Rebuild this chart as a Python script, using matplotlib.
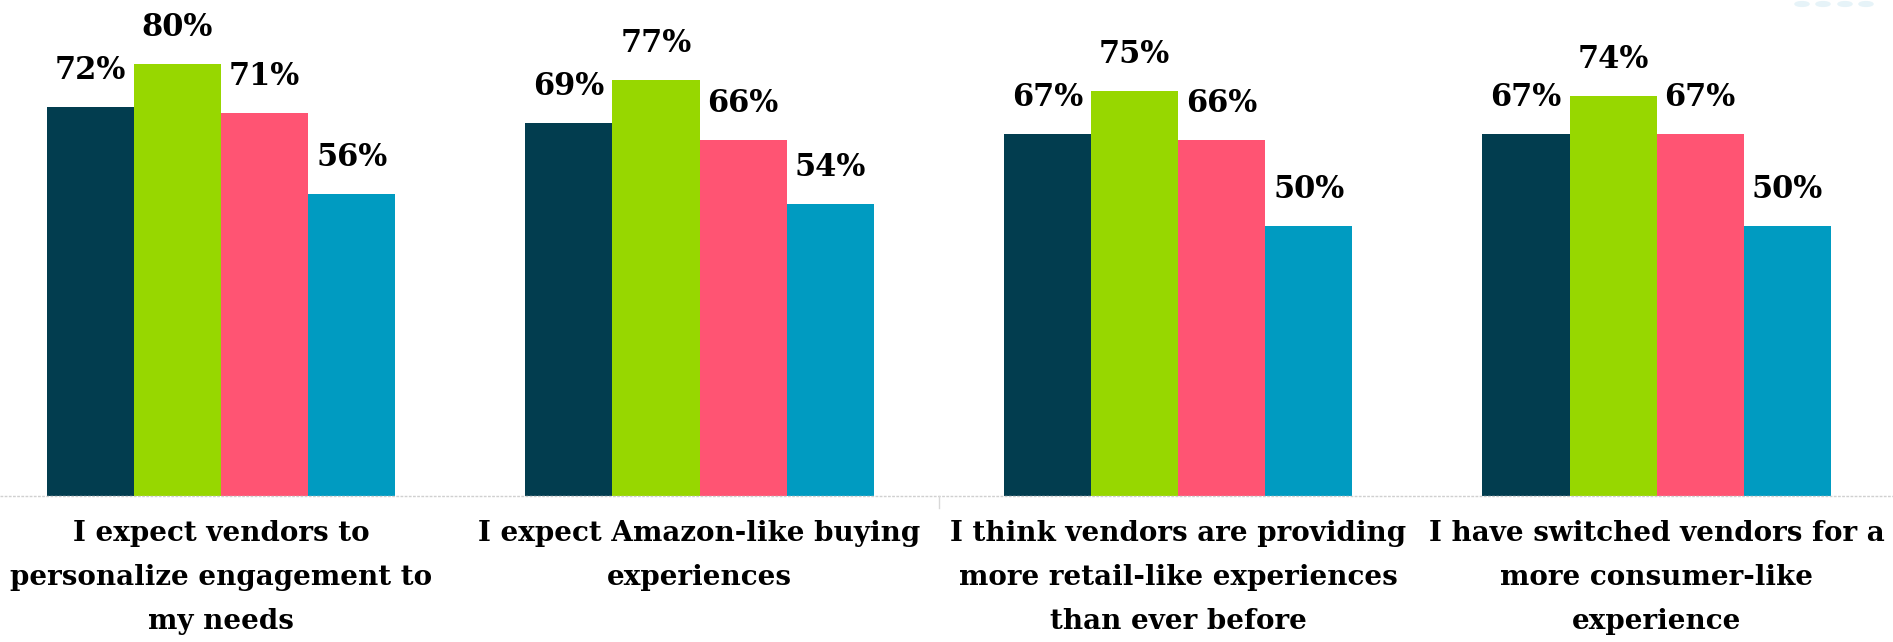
import numpy as np
import matplotlib.pyplot as plt
from matplotlib.patches import Circle

# Survey results per statement, four respondent groups
categories = [
    "I expect vendors to\npersonalize engagement to\nmy needs",
    "I expect Amazon-like buying\nexperiences",
    "I think vendors are providing\nmore retail-like experiences\nthan ever before",
    "I have switched vendors for a\nmore consumer-like\nexperience",
]
series_a = [72, 69, 67, 67]
series_b = [80, 77, 75, 74]
series_c = [71, 66, 66, 67]
series_d = [56, 54, 50, 50]

colors = ["#023d4f", "#97d700", "#ff5473", "#009bc1"]
series = [series_a, series_b, series_c, series_d]

fig = plt.figure(figsize=(18.93, 6.42), dpi=100)
ax = fig.add_axes([0, 1 - 496 / 642, 1, 496 / 642])

x = np.arange(len(categories))
width = 0.182
offsets = (np.arange(4) - 1.5) * width

for vals, off, col in zip(series, offsets, colors):
    bars = ax.bar(x + off, vals, width=width, color=col, linewidth=0)
    for b, v in zip(bars, vals):
        ax.annotate(f"{v}%", (b.get_x() + b.get_width() / 2, v),
                    xytext=(0, 21), textcoords="offset pixels",
                    ha="center", va="bottom", fontsize=22,
                    fontweight="bold", family="DejaVu Serif", color="black")

ax.set_xlim(-0.462, 3.494)
ax.set_ylim(0, 496 / 5.4)
ax.axis("off")

# baseline and separator tick
ax.axhline(0, color="#d0d0d0", linewidth=1, linestyle=(0, (2, 1)), clip_on=False)
ax.plot([1.5, 1.5], [0, -2.2], color="#d8d8d8", linewidth=1, clip_on=False)

for xi, label in zip(x, categories):
    ax.annotate(label, (xi, 0), xytext=(0, -24), textcoords="offset pixels",
                ha="center", va="top", fontsize=20, fontweight="bold",
                family="DejaVu Serif", linespacing=1.8, color="black")

# faint dots in the top corner
for cx in [1802, 1823, 1845, 1866]:
    fig.patches.append(Circle((cx / 1893, 1 - 4 / 642), 7 / 1893,
                              transform=fig.transFigure, color="#e6f3f8",
                              zorder=0))

fig.savefig("out.png", dpi=100)
